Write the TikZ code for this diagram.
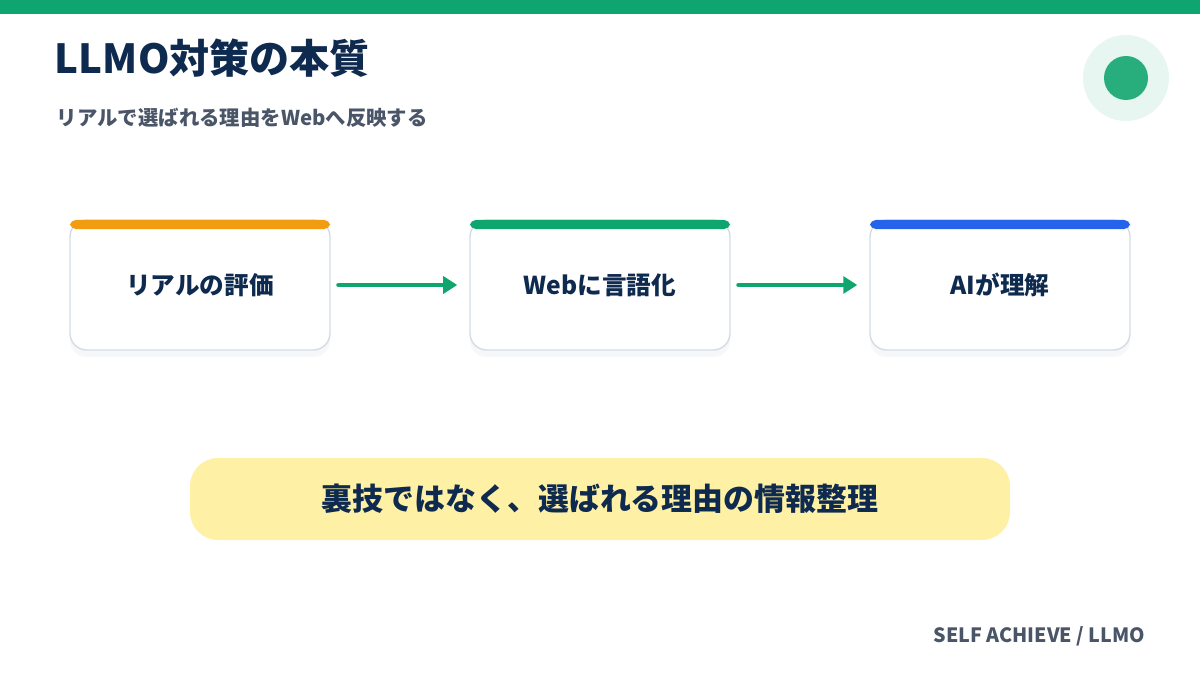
\documentclass[tikz,border=0pt]{standalone}
\usepackage{fontspec}
\setmainfont{Noto Sans CJK JP}
\usetikzlibrary{shadows,arrows.meta}
\definecolor{brand}{HTML}{0FA56E}
\definecolor{navy}{HTML}{0F2A4F}
\definecolor{slate}{HTML}{4A5568}
\definecolor{edge}{HTML}{D5DCE6}
\definecolor{orange}{HTML}{F29C12}
\definecolor{royal}{HTML}{2563EB}
\definecolor{memo}{HTML}{FEF0A5}
\tikzset{
    card/.style={draw=edge, line width=1pt, fill=white, rounded corners=12pt,
        minimum width=260*0.025cm, minimum height=130*0.025cm,
        drop shadow={shadow xshift=0pt, shadow yshift=-5pt, opacity=0.04, fill=navy},
        font=\fontsize{17.5}{20}\selectfont\bfseries, text=navy},
    flow/.style={brand, line width=3.5pt, line cap=round, -{Triangle[length=10pt,width=12pt]}}
}
\begin{document}
\begin{tikzpicture}[x=0.025cm,y=-0.025cm]
    \useasboundingbox (0,0) rectangle (1200,675);
    \fill[brand] (0,0) rectangle (1200,14);

    % Title block.
    \node[anchor=west, text=navy, font=\fontsize{28.5}{32}\selectfont\bfseries] (title) at (50,58) {LLMO対策の本質};
    \node[anchor=west, text=slate, font=\fontsize{14.5}{16}\selectfont\bfseries] (subtitle) at (52,118) {リアルで選ばれる理由をWebへ反映する};
    \fill[brand!10] (1126,78) circle (43);
    \fill[brand!90!white] (1126,78) circle (22);

    % Cards.
    \foreach \name/\x/\hue/\txt in {real/200/orange/リアルの評価,web/600/brand/Webに言語化,ai/1000/royal/AIが理解}{
        \node[card] (\name) at (\x,285) {\txt};
        \fill[\hue, rounded corners=4pt] (\x-130,220) rectangle (\x+130,229);
    }
    \draw[flow] ([xshift=8*0.025cm]real.east) -- ([xshift=-12*0.025cm]web.west);
    \draw[flow] ([xshift=8*0.025cm]web.east) -- ([xshift=-12*0.025cm]ai.west);

    % Note.
    \node[fill=memo, rounded corners=20pt, minimum width=820*0.025cm, minimum height=82*0.025cm,
        text=navy, font=\fontsize{22}{26}\selectfont\bfseries] (note) at (600,499) {裏技ではなく、選ばれる理由の情報整理};

    \node[anchor=east, text=slate, font=\fontsize{14}{16}\selectfont\bfseries] (footer) at (1150,636) {SELF ACHIEVE / LLMO};
\end{tikzpicture}
\end{document}
